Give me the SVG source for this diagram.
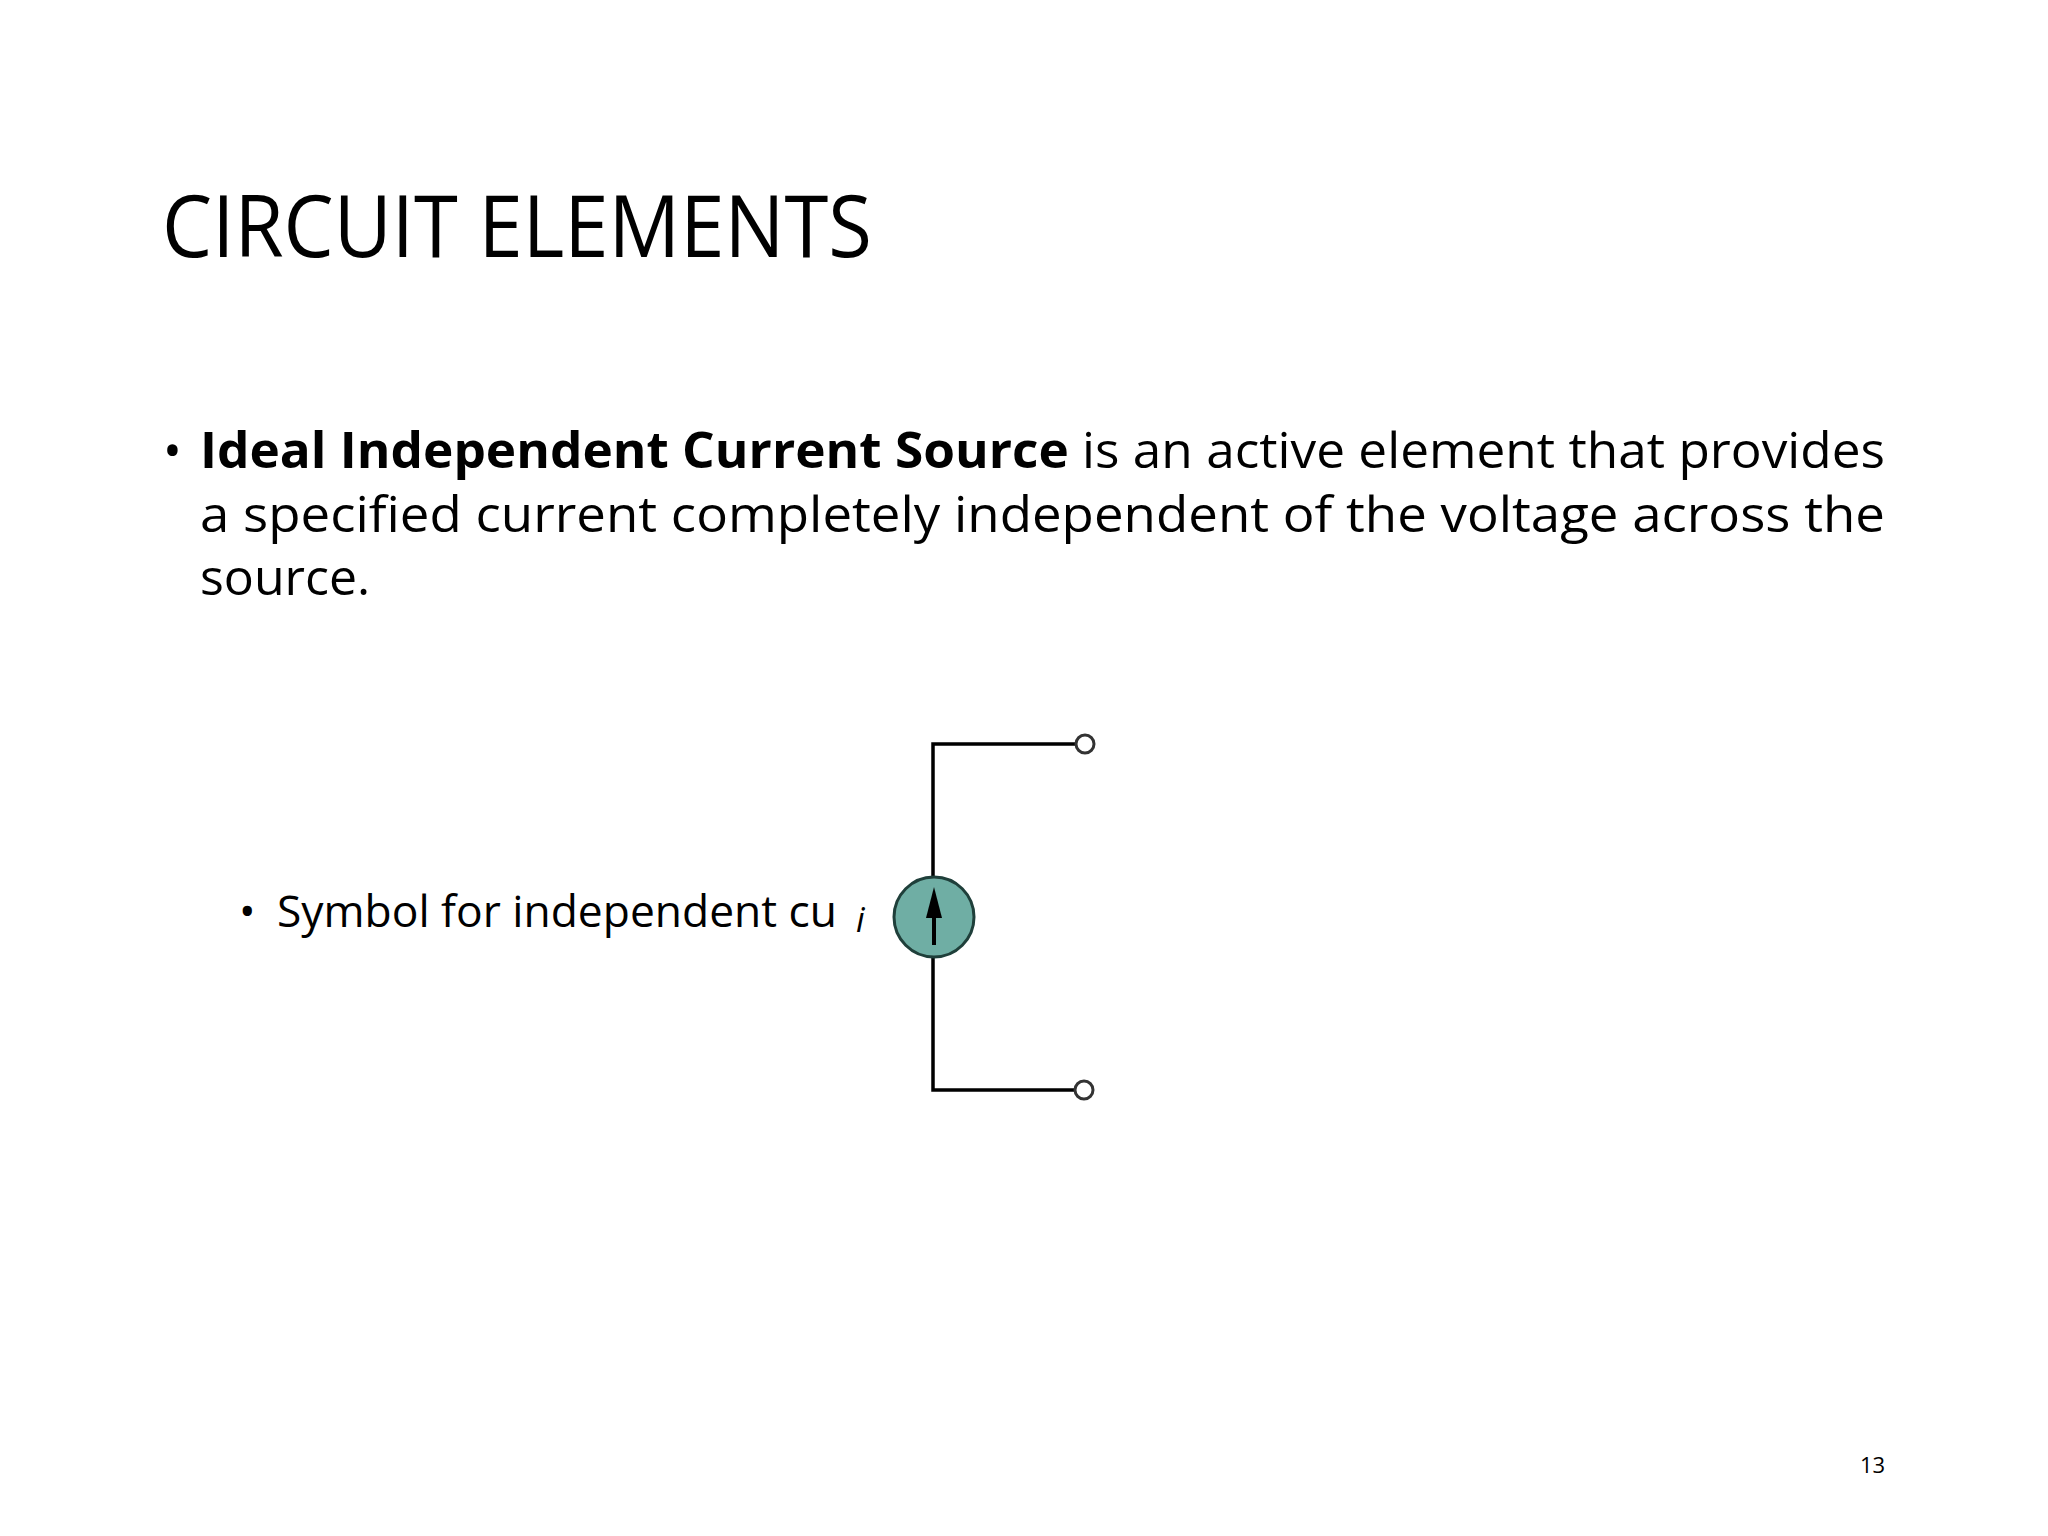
<svg xmlns="http://www.w3.org/2000/svg" width="2048" height="1536" viewBox="0 0 2048 1536">
<style>
text{font-family:"Open Sans","Liberation Sans",sans-serif;fill:#000}
.w{stroke:#000;stroke-width:3.5;fill:none}
</style>
<rect width="2048" height="1536" fill="#fff"/>
<text x="162" y="257" font-size="86" textLength="710" lengthAdjust="spacingAndGlyphs">CIRCUIT ELEMENTS</text>
<g id="body" font-size="50">
<text x="163" y="468">•</text>
<text x="200" y="468" textLength="1685" lengthAdjust="spacingAndGlyphs"><tspan font-weight="bold">Ideal Independent Current Source</tspan> is an active element that provides</text>
<text x="200" y="532" textLength="1685" lengthAdjust="spacingAndGlyphs">a specified current completely independent of the voltage across the</text>
<text x="200" y="595">source.</text>
</g>
<g id="sub" font-size="44">
<text x="239" y="927">•</text>
<text x="277" y="927" textLength="560" lengthAdjust="spacingAndGlyphs">Symbol for independent cu</text>
</g>
<g id="connectors">
<polyline class="w" points="1080,744 933,744 933,877"/>
<polyline class="w" points="933,957 933,1090 1080,1090"/>
</g>
<g id="source">
<circle cx="934" cy="917" r="40" fill="#6faea4" stroke="#1f3f3a" stroke-width="3"/>
<line x1="934" y1="945" x2="934" y2="905" stroke="#000" stroke-width="4"/>
<polygon points="934,887 926,918 942,918" fill="#000"/>
<text x="856" y="932" font-size="34" font-style="italic" font-family="Liberation Serif,serif" fill="#1a2a6a">i</text>
</g>
<g id="t1"><circle cx="1085" cy="744" r="9" fill="#fff" stroke="#333" stroke-width="3"/></g>
<g id="t2"><circle cx="1084" cy="1090" r="9" fill="#fff" stroke="#333" stroke-width="3"/></g>
<text x="1860" y="1473" font-size="22" fill="#777">13</text>
</svg>
